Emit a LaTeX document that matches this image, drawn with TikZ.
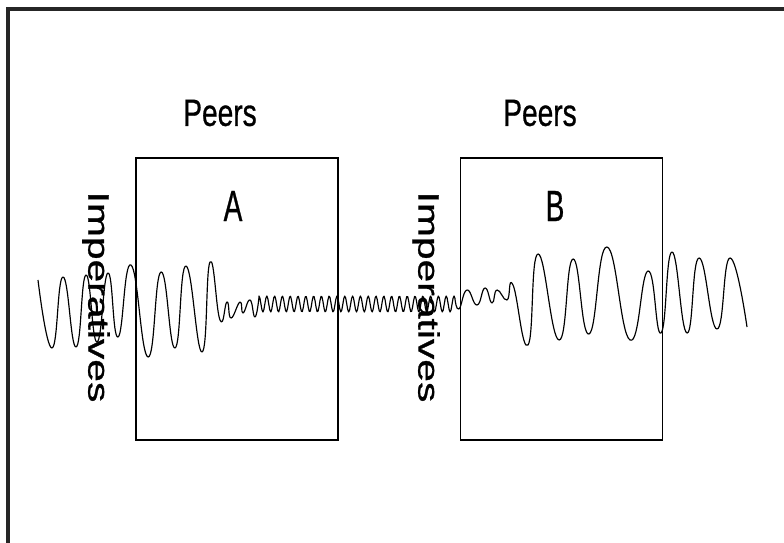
\documentclass[tikz,border=0pt]{standalone}
\usepackage{fontspec}
\setmainfont{Liberation Sans}
\newfontfamily\thickfont[FakeBold=0.8]{Liberation Sans}
\usepackage{tikz}
\usetikzlibrary{positioning}
\tikzstyle{frame} = [line width=3pt, draw=black!85]
\tikzstyle{zone} = [rectangle, 
minimum width=6.06cm, 
minimum height=8.46cm, 
line width=1.2pt,
draw=black]
\tikzstyle{label} = [font=\thickfont\fontsize{24}{28}\selectfont, inner sep=0pt, yscale=1.35]
\tikzstyle{letter} = [label, yscale=1.15]
\tikzstyle{sidelabel} = [font=\thickfont\fontsize{24}{28}\selectfont, inner sep=0pt, rotate=-90, xscale=1.45, yscale=1.05]
\tikzstyle{wave} = [line width=1pt, line join=round]

\begin{document}
\begin{tikzpicture}[x=0.03cm, y=-0.03cm]
        \useasboundingbox (0,0) rectangle (784,543);

        % --- Marco ---
        \draw [frame] (784,9) -- (8,9) -- (8,543);

        % --- Cajas ---
        \node (boxA) [zone] at (237,299) {};
        \node (boxB) [zone, right=3.63cm of boxA] {};

        % --- Textos ---
        \node (peersA) [label] at (220,113) {Peers};
        \node (peersB) [label] at (540,113) {Peers};
        \node (nameA) [letter] at (233,206) {A};
        \node (nameB) [letter] at (555,206) {B};
        \node (impA) [sidelabel] at (96,297) {Imperatives};
        \node (impB) [sidelabel] at (426,297) {Imperatives};

        % --- Onda ---
        \draw [wave] plot[smooth, tension=0.85] coordinates {
            (38,280) (52,348) (63,277) (76,347) (86,275) (97,342) (108,273)
            (118,337) (131,265) (148,357) (161,272) (175,348) (186,266)
            (202,352) (210,262) (220,320) (227,302) (231,318) (240,302)
            (243,313) (250,300) (255,317) (259,297)}
          -- plot[domain=259:455, samples=200] (\x, {304-8*cos(46.15*(\x-259))})
          -- plot[smooth, tension=0.85] coordinates {
            (455,299) (459,309) (467,290) (477,305) (485,288) (492,303)
            (497,290) (507,300) (513,285) (528,345) (538,254) (559,340)
            (573,259) (589,334) (607,247) (630,340) (648,271) (661,333)
            (672,252) (687,333) (699,258) (717,329) (730,258) (747,327)};

\end{tikzpicture}
\end{document}
